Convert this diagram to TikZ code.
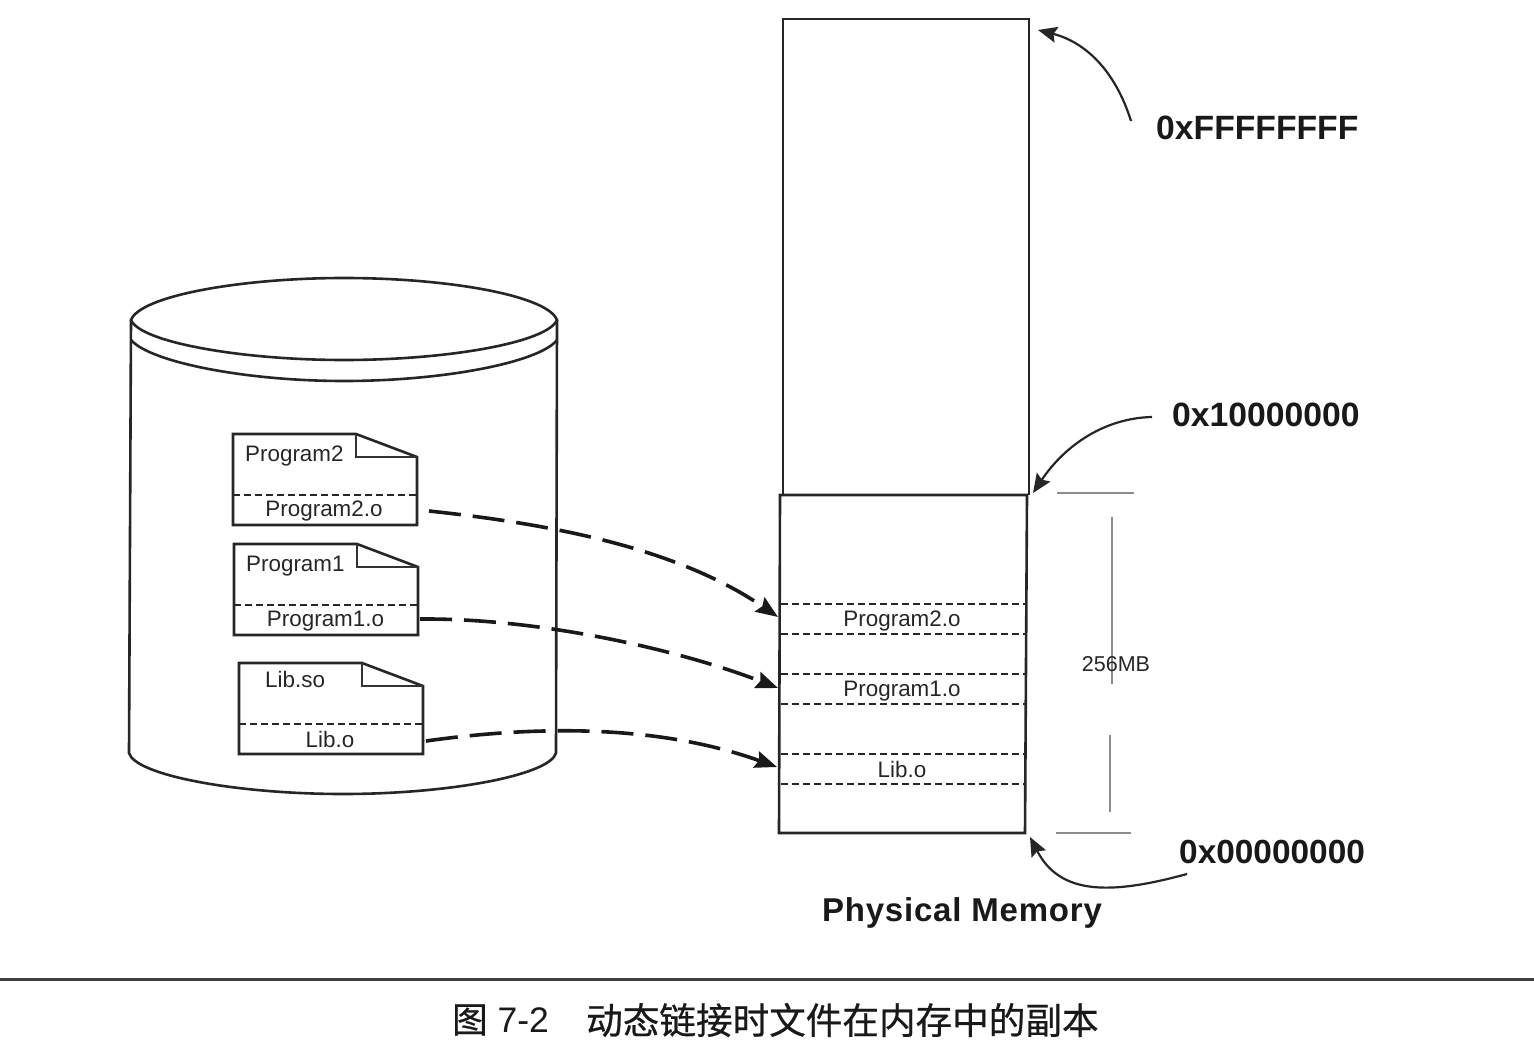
\documentclass[tikz,border=0pt]{standalone}
\usepackage{fontspec}
\setmainfont{Liberation Sans}
\newfontfamily\cjk[FakeBold=0.6]{Noto Sans CJK SC}
\usetikzlibrary{arrows.meta}
\tikzset{
  x=1pt,y=-1pt,
  outline/.style={draw=black!85,line width=2.6pt},
  thin outline/.style={draw=black!80,line width=2.2pt},
  dash line/.style={draw=black!85,line width=2.2pt,dash pattern=on 7pt off 4pt},
  label text/.style={inner sep=0pt,font=\fontsize{22.4}{24}\selectfont,text=black!85},
  addr/.style={inner sep=0pt,font=\fontsize{33.7}{36}\selectfont\bfseries,text=black!90},
  copy arrow/.style={draw=black!90,line width=3.6pt,dash pattern=on 32pt off 12pt,-{Stealth[length=22pt,width=17pt,inset=3pt]}},
  addr arrow/.style={draw=black!85,line width=2.2pt,-{Stealth[length=19pt,width=16pt,inset=3pt]}},
  dim/.style={draw=black!45,line width=1.1pt},
}
\begin{document}
\begin{tikzpicture}
\useasboundingbox (0,0) rectangle (1534,1062);
\fill[white] (0,0) rectangle (1534,1062);
% disk
\draw[outline] (131,320) -- (129,753) .. controls (135,775) and (235,794) .. (343,794) .. controls (450,794) and (550,775) .. (556,753) -- (557,320);
\draw[outline] (131,340) .. controls (150,362) and (245,381) .. (344,381) .. controls (445,381) and (540,362) .. (557,340);
\draw[outline] (131,320) .. controls (140,296) and (240,278) .. (344,278) .. controls (450,278) and (548,296) .. (557,320) .. controls (548,342) and (450,360) .. (344,360) .. controls (240,360) and (140,342) .. (131,320) -- cycle;
% files
\newcommand{\filebox}[2]{%
  \draw[outline] (#1,#2) -- (#1+123,#2) -- (#1+184,#2+23) -- (#1+184,#2+91) -- (#1,#2+91) -- cycle;
  \draw[thin outline] (#1+123,#2) -- (#1+123,#2+23) -- (#1+184,#2+23);
  \draw[dash line] (#1,#2+61) -- (#1+184,#2+61);
}
\filebox{233}{434}
\filebox{234}{544}
\filebox{239}{663}
\node[label text,anchor=west] (p2) at (245,456) {Program2};
\node[label text] (p2o) at (324,511) {Program2.o};
\node[label text,anchor=west] (p1) at (246,566) {Program1};
\node[label text] (p1o) at (325.5,621) {Program1.o};
\node[label text,anchor=west] (lib) at (265,679) {Lib.so};
\node[label text] (libo) at (330,739) {Lib.o};
% memory
\draw[outline] (783,495) -- (783,19) -- (1029,19) -- (1029,495);
\draw[outline] (780,495) -- (1027,495) -- (1025,833) -- (779,833) -- cycle;
\foreach \y in {604,634,674,704,754,784} \draw[dash line] (781,\y) -- (1025,\y);
\node[label text] (m2) at (902,621) {Program2.o};
\node[label text] (m1) at (902,691) {Program1.o};
\node[label text] (m0) at (902,769) {Lib.o};
% copies
\coordinate (a2s) at (429,511);
\coordinate (a2e) at (778,617);
\coordinate (a1s) at (420,619);
\coordinate (a1e) at (778,688);
\coordinate (a0s) at (426,741);
\coordinate (a0e) at (777,767);
\draw[copy arrow] (a2s) .. controls (560,525) and (680,550) .. (a2e);
\draw[copy arrow] (a1s) .. controls (540,618) and (680,650) .. (a1e);
\draw[copy arrow] (a0s) .. controls (540,725) and (660,725) .. (a0e);
% addresses
\node[addr,anchor=west] (top) at (1156,128) {0xFFFFFFFF};
\node[addr,anchor=west] (mid) at (1172,415) {0x10000000};
\node[addr,anchor=west,font=\fontsize{33.4}{36}\selectfont\bfseries] (low) at (1179,852) {0x00000000};
\node[inner sep=0pt,font=\fontsize{33}{36}\selectfont\bfseries,text=black!90] (pm) at (962,913) {\addfontfeature{LetterSpace=2.4}Physical Memory};
\coordinate (tops) at (1131,121);
\coordinate (tope) at (1038,30);
\coordinate (mids) at (1152,417);
\coordinate (mide) at (1033,493);
\coordinate (lows) at (1187,874);
\coordinate (lowe) at (1030,837);
\draw[addr arrow] (tops) .. controls (1115,70) and (1085,42) .. (tope);
\draw[addr arrow] (mids) .. controls (1105,418) and (1065,445) .. (mide);
\draw[addr arrow] (lows) .. controls (1110,895) and (1060,895) .. (lowe);
% 256MB
\draw[dim] (1057,493) -- (1134,493);
\draw[dim] (1056,833) -- (1131,833);
\draw[dim] (1112,517) -- (1112,684);
\draw[dim] (1110,735) -- (1110,812);
\node[inner sep=0pt,font=\fontsize{21.5}{24}\selectfont,text=black!85] (size) at (1116,664) {256MB};
% rule and caption
\draw[draw=black!75,line width=3pt] (0,979) -- (1534,979);
\node[inner sep=0pt,anchor=west,font=\fontsize{35.5}{38}\selectfont,text=black!90] (cap1) at (452,1020) {{\cjk 图} 7-2};
\node[inner sep=0pt,anchor=west,font=\cjk\fontsize{36.6}{40}\selectfont,text=black!90] (cap2) at (586,1020) {动态链接时文件在内存中的副本};
\end{tikzpicture}
\end{document}
